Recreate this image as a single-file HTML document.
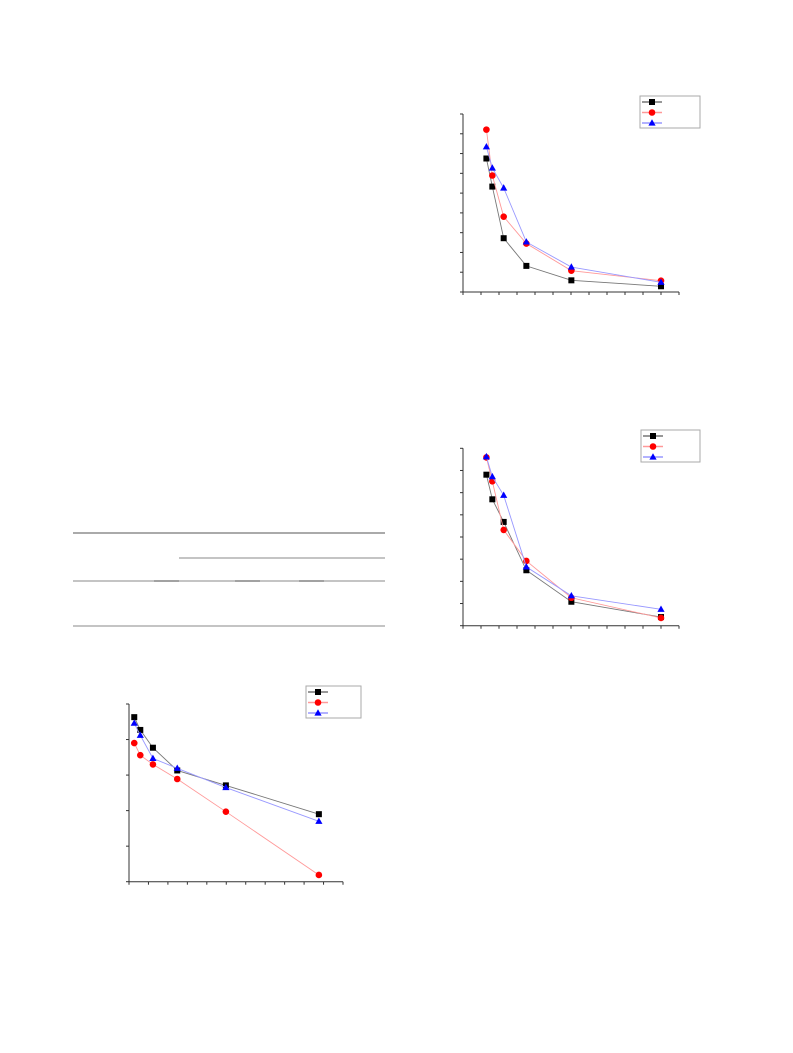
<!DOCTYPE html>
<html><head><meta charset="utf-8"><style>
html,body{margin:0;padding:0;background:#fff;}
body{width:793px;height:1053px;position:relative;overflow:hidden;font-family:"Liberation Sans",sans-serif;}
svg{position:absolute;left:0;top:0;}
</style></head><body>
<svg id="page" width="793" height="1053">
  <g>
    <line x1="73" y1="533" x2="385" y2="533" stroke="#555" stroke-width="1"/>
    <line x1="179" y1="558" x2="385" y2="558" stroke="#888" stroke-width="1"/>
    <line x1="73" y1="581" x2="385" y2="581" stroke="#888" stroke-width="1"/>
    <line x1="154" y1="581" x2="179" y2="581" stroke="#444" stroke-width="1"/>
    <line x1="235" y1="581" x2="260" y2="581" stroke="#444" stroke-width="1"/>
    <line x1="299" y1="581" x2="324" y2="581" stroke="#444" stroke-width="1"/>
    <line x1="73" y1="626" x2="385" y2="626" stroke="#888" stroke-width="1"/>
  </g>
</svg>
<script>
// Chart 1 (top right)
const c1X = [1.3, 1.63, 2.26, 3.52, 6.02, 11.0];
const c1Black = [6.75, 5.33, 2.72, 1.32, 0.59, 0.29];
const c1Red = [8.21, 5.89, 3.81, 2.45, 1.08, 0.57];
const c1Blue = [7.34, 6.27, 5.26, 2.53, 1.26, 0.49];
// Chart 2 (middle right)
const c2X = [1.3, 1.63, 2.26, 3.52, 6.02, 11.0];
const c2Black = [6.81, 5.70, 4.68, 2.50, 1.08, 0.39];
const c2Red = [7.59, 6.51, 4.32, 2.92, 1.26, 0.35];
const c2Blue = [7.62, 6.72, 5.88, 2.65, 1.35, 0.74];
// Chart 3 (bottom left)
const c3X = [0.27, 0.58, 1.23, 2.48, 4.98, 9.76];
const c3Black = [4.63, 4.27, 3.77, 3.13, 2.71, 1.90];
const c3Red = [3.90, 3.56, 3.30, 2.89, 1.97, 0.19];
const c3Blue = [4.46, 4.12, 3.47, 3.19, 2.65, 1.70];

const NS = 'http://www.w3.org/2000/svg';
const svg = document.getElementById('page');
function mk(tag, attrs, parent) {
  const e = document.createElementNS(NS, tag);
  for (const k in attrs) e.setAttribute(k, attrs[k]);
  parent.appendChild(e);
  return e;
}
function marker(g, type, cx, cy, color) {
  let m;
  if (type === 'sq') m = mk('rect', {x: cx - 3, y: cy - 3, width: 6, height: 6, fill: color}, g);
  else if (type === 'ci') m = mk('circle', {cx: cx, cy: cy, r: 3.3, fill: color}, g);
  else m = mk('polygon', {points: `${cx},${cy - 3.8} ${cx + 3.6},${cy + 2.6} ${cx - 3.6},${cy + 2.6}`, fill: color}, g);
  return m;
}
function chart(name, o, xs, series) {
  const g = mk('g', {}, svg);
  
  
  const sx = v => o.x0 + (v / o.xMax) * (o.x1 - o.x0);
  const sy = v => o.y0 - (v / o.yMax) * (o.y0 - o.y1);
  const ax = mk('g', {}, g);
  
  
  mk('line', {x1: o.x0, y1: o.y0, x2: o.x1, y2: o.y0, stroke: '#333', 'stroke-width': 1}, ax);
  mk('line', {x1: o.x0, y1: o.y0, x2: o.x0, y2: o.y1, stroke: '#333', 'stroke-width': 1}, ax);
  for (let i = 0; i <= o.xMax; i++) {
    const t = mk('line', {x1: sx(i), y1: o.y0, x2: sx(i), y2: o.y0 + 3, stroke: '#333'}, ax);
    
    
  }
  for (let i = 0; i <= o.yMax; i++) {
    const t = mk('line', {x1: o.x0 - 3, y1: sy(i), x2: o.x0, y2: sy(i), stroke: '#333'}, ax);
    
    
  }
  series.forEach(s => {
    const sg = mk('g', {}, g);
    
    
    mk('polyline', {points: xs.map((x, i) => sx(x) + ',' + sy(s.vals[i])).join(' '), fill: 'none', stroke: s.line, 'stroke-width': 0.9}, sg);
    xs.forEach((x, i) => {
      const m = marker(sg, s.type, sx(x), sy(s.vals[i]), s.color);
      
      
    });
  });
  const lg = mk('g', {}, g);
  
  
  mk('rect', {x: o.lx, y: o.ly, width: o.lw, height: 32, fill: '#fff', stroke: '#aaa', 'stroke-width': 1}, lg);
  series.forEach((s, i) => {
    const yy = o.ly + 6 + i * 10.5;
    const e = mk('g', {}, lg);
    
    
    mk('line', {x1: o.lx + 2, y1: yy, x2: o.lx + 22, y2: yy, stroke: s.line, 'stroke-width': 1.5}, e);
    marker(e, s.type, o.lx + 12, yy, s.color);
  });
}
const S = (b, r, bl) => [
  {name: 'black', vals: b, type: 'sq', color: '#000', line: '#777'},
  {name: 'red', vals: r, type: 'ci', color: '#f00', line: '#f99'},
  {name: 'blue', vals: bl, type: 'tr', color: '#00f', line: '#99f'}
];
chart('chart-top-right', {x0: 463, x1: 679, y0: 292, y1: 114, xMax: 12, yMax: 9, lx: 640, ly: 96, lw: 60}, c1X, S(c1Black, c1Red, c1Blue));
chart('chart-middle-right', {x0: 463, x1: 679, y0: 625.7, y1: 448.3, xMax: 12, yMax: 8, lx: 641, ly: 430, lw: 59}, c2X, S(c2Black, c2Red, c2Blue));
chart('chart-bottom-left', {x0: 129, x1: 343, y0: 881.7, y1: 704, xMax: 11, yMax: 5, lx: 306, ly: 686, lw: 55}, c3X, S(c3Black, c3Red, c3Blue));
</script>
</body></html>
